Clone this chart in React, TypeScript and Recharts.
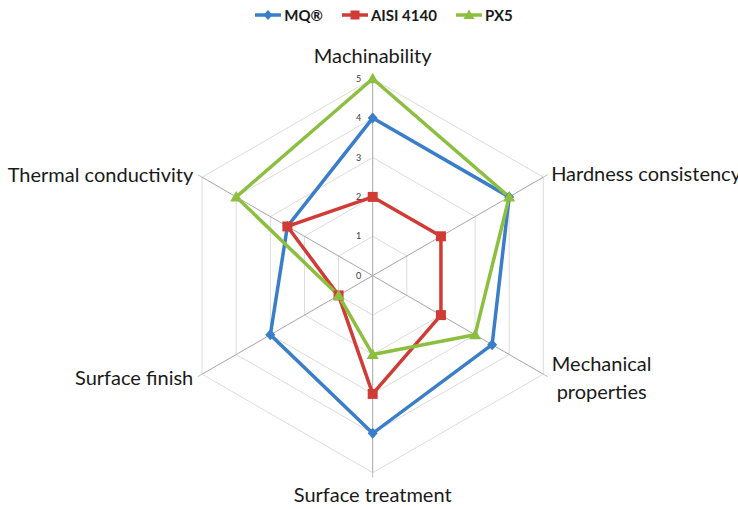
import React from 'react';
import {
  RadarChart,
  Radar,
  PolarGrid,
  PolarAngleAxis,
  PolarRadiusAxis,
  Legend,
} from 'recharts';

const criteria = [
  'Machinability',
  'Hardness consistency',
  'Mechanical properties',
  'Surface treatment',
  'Surface finish',
  'Thermal conductivity',
];
const mqValues = [4, 4, 3.5, 4, 3, 2.5];
const aisiValues = [2, 2, 2, 3, 1, 2.5];
const px5Values = [5, 4, 3, 2, 1, 4];
const radiusTicks = [0, 1, 2, 3, 4, 5];

const BLUE = '#3A7DC9';
const RED = '#D13B36';
const GREEN = '#8CBF40';
const FONT = 'Lato, "Open Sans", sans-serif';

const data = criteria.map((name, i) => ({
  name,
  mq: mqValues[i],
  aisi: aisiValues[i],
  px5: px5Values[i],
}));

// label placement relative to the tick point recharts hands us
const labelPos: Record<string, { dx: number; dy: number; anchor: string; lines?: number[] }> = {
  Machinability: { dx: 0, dy: -10.5, anchor: 'middle' },
  'Hardness consistency': { dx: 3.5, dy: 6, anchor: 'start' },
  'Mechanical properties': { dx: 54, dy: -5.7, anchor: 'middle', lines: [0, 28] },
  'Surface treatment': { dx: 0, dy: 24, anchor: 'middle' },
  'Surface finish': { dx: -4.5, dy: 8.3, anchor: 'end' },
  'Thermal conductivity': { dx: -4.5, dy: 7.3, anchor: 'end' },
};

const AngleTick = (props: any) => {
  const { x, y, payload } = props;
  const name: string = payload.value;
  const p = labelPos[name];
  if (p.lines) {
    const words = name.split(' ');
    return (
      <text x={x + p.dx} y={y + p.dy} textAnchor={p.anchor} fontSize={20} fill="#1a1a1a" fontFamily={FONT}>
        {words.map((w, i) => (
          <tspan key={w} x={x + p.dx} y={y + p.dy + p.lines![i]}>
            {w}
          </tspan>
        ))}
      </text>
    );
  }
  return (
    <text x={x + p.dx} y={y + p.dy} textAnchor={p.anchor} fontSize={20} fill="#1a1a1a" fontFamily={FONT}>
      {name}
    </text>
  );
};

const RadiusTick = (props: any) => {
  const { x, y, payload } = props;
  return (
    <text x={x - 14} y={y + 3} textAnchor="middle" fontSize={9} fill="#404040" fontFamily={FONT}>
      {payload.value}
    </text>
  );
};

const Diamond = (props: any) => {
  const { cx, cy } = props;
  return <path d={`M${cx},${cy - 5.5}L${cx + 5},${cy}L${cx},${cy + 5.5}L${cx - 5},${cy}Z`} fill={BLUE} />;
};
const Square = (props: any) => {
  const { cx, cy } = props;
  return <rect x={cx - 5} y={cy - 5} width={10} height={10} fill={RED} />;
};
const Triangle = (props: any) => {
  const { cx, cy } = props;
  return <path d={`M${cx},${cy - 6}L${cx + 6},${cy + 4.5}L${cx - 6},${cy + 4.5}Z`} fill={GREEN} />;
};

const legendItems = [
  { label: 'MQ®', color: BLUE, marker: 'diamond' },
  { label: 'AISI 4140', color: RED, marker: 'square' },
  { label: 'PX5', color: GREEN, marker: 'triangle' },
];

const LegendIcon = ({ color, marker }: { color: string; marker: string }) => (
  <svg width={26} height={12} style={{ marginRight: 3 }}>
    <line x1={0} y1={6} x2={26} y2={6} stroke={color} strokeWidth={3.5} />
    {marker === 'diamond' && <path d="M13,1L17.5,6L13,11L8.5,6Z" fill={color} />}
    {marker === 'square' && <rect x={8.5} y={1.5} width={9} height={9} fill={color} />}
    {marker === 'triangle' && <path d="M13,0.5L18.5,10L7.5,10Z" fill={color} />}
  </svg>
);

const renderLegend = () => (
  <div style={{ display: 'flex', justifyContent: 'center', gap: 19, paddingLeft: 30 }}>
    {legendItems.map((it) => (
      <div key={it.label} style={{ display: 'flex', alignItems: 'center' }}>
        <LegendIcon color={it.color} marker={it.marker} />
        <span style={{ fontFamily: FONT, fontWeight: 700, fontSize: 15, color: '#1a1a1a' }}>{it.label}</span>
      </div>
    ))}
  </div>
);

const App: React.FC = () => {
  return (
    <div style={{ position: 'absolute', left: 0, top: 0, background: '#fff' }}>
      <RadarChart width={738} height={509} data={data} cx={372.7} cy={275.7} outerRadius={197}>
        <Legend
          verticalAlign="top"
          content={renderLegend}
          wrapperStyle={{ top: 6, left: 0, width: 738 }}
        />
        <PolarGrid gridType="polygon" radialLines={false} stroke="#dcdcdc" />
        <PolarGrid gridType="polygon" polarRadius={[]} stroke="#a6a6a6" />
        <PolarAngleAxis
          dataKey="name"
          tick={<AngleTick />}
          tickSize={5}
          tickLine={{ stroke: '#bfbfbf' }}
          axisLine={false}
        />
        <PolarRadiusAxis
          angle={90}
          domain={[0, 5]}
          ticks={radiusTicks as any}
          tickCount={6}
          tick={<RadiusTick />}
          axisLine={false}
          tickLine={false}
        />
        <Radar
          dataKey="mq"
          name="MQ®"
          stroke={BLUE}
          strokeWidth={3.5}
          fill="none"
          dot={<Diamond />}
          isAnimationActive={false}
        />
        <Radar
          dataKey="aisi"
          name="AISI 4140"
          stroke={RED}
          strokeWidth={3.5}
          fill="none"
          dot={<Square />}
          isAnimationActive={false}
        />
        <Radar
          dataKey="px5"
          name="PX5"
          stroke={GREEN}
          strokeWidth={3.5}
          fill="none"
          dot={<Triangle />}
          isAnimationActive={false}
        />
      </RadarChart>
    </div>
  );
};

export default App;
